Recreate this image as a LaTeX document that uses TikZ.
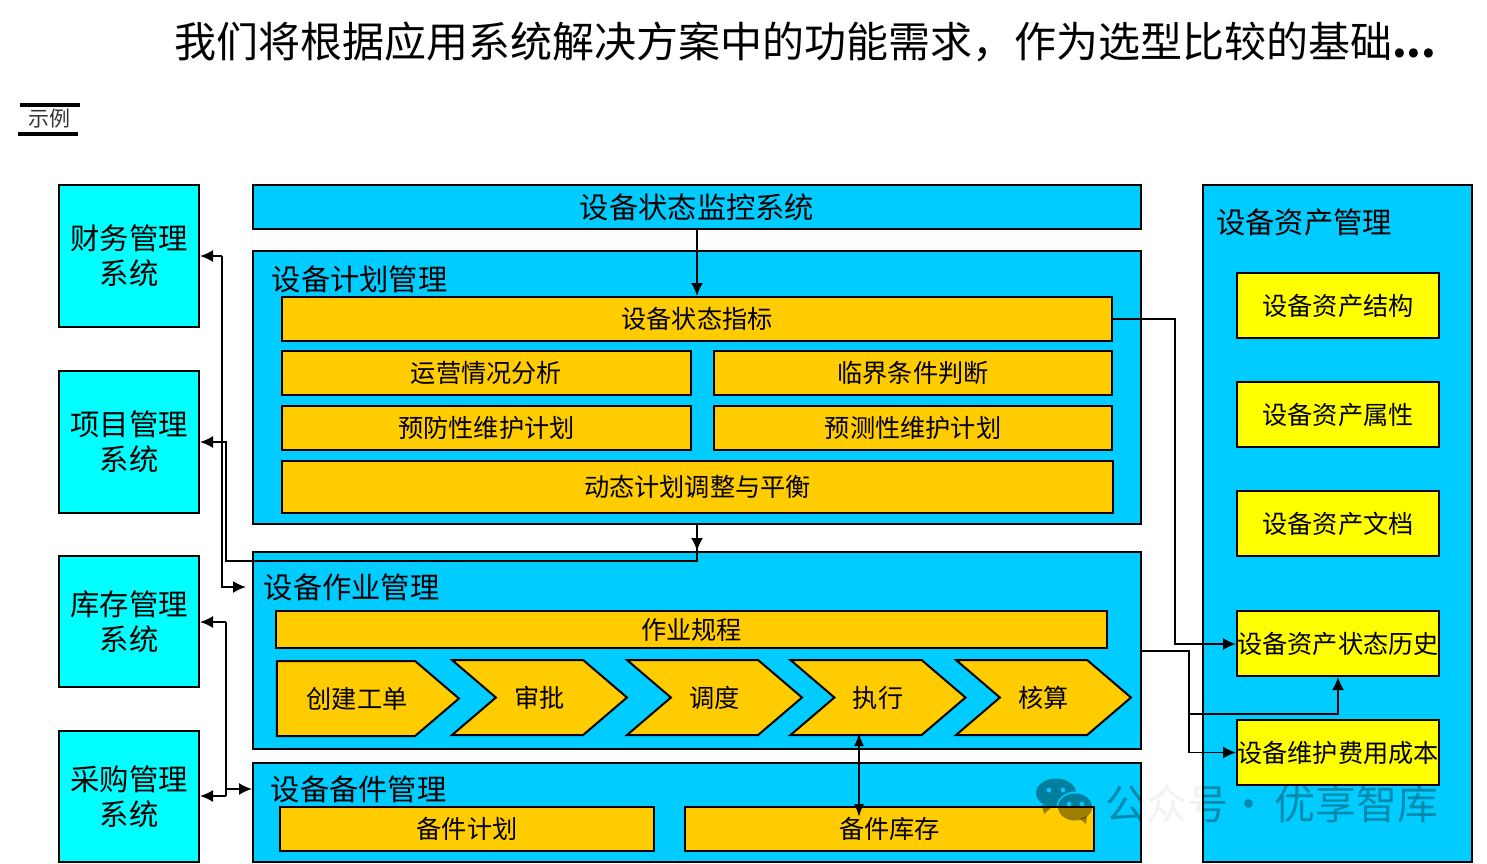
\documentclass[tikz,border=0pt]{standalone}
\usepackage{fontspec}
\setmainfont{Noto Sans CJK SC}
\usetikzlibrary{arrows.meta,shapes.symbols}
\definecolor{panelblue}{RGB}{0, 204, 255}
\definecolor{sysaqua}{RGB}{0, 255, 255}
\definecolor{taskamber}{RGB}{255, 204, 0}
\definecolor{assetyellow}{RGB}{255, 255, 0}
\newcommand{\pxfont}[1]{\fontsize{#1}{#1}\selectfont}
\newcommand{\marktext}{公众号·\hspace{5pt}优享智库}
\tikzset{
    box/.style={draw=black, line width=2pt, rectangle, inner sep=0pt, text=black},
    sysbox/.style={box, fill=sysaqua, align=center, font=\pxfont{29.4}},
    panel/.style={box, fill=panelblue},
    taskbox/.style={box, fill=taskamber, font=\pxfont{25.2}},
    assetbox/.style={box, fill=assetyellow, font=\pxfont{25.2}},
    panelhead/.style={anchor=west, inner sep=0pt, font=\pxfont{29.3}},
    stepchev/.style={draw=black, line width=2pt, fill=taskamber, shape=signal, signal to=east, signal from=west,
        signal pointer angle=81, inner sep=0pt, minimum width=175pt, minimum height=75pt, font=\pxfont{25.2}},
    wire/.style={draw=black, line width=1.8pt, -{Latex[length=13pt,width=12pt]}},
    wireplain/.style={draw=black, line width=1.8pt},
    markstyle/.style={anchor=west, inner sep=0pt, font=\pxfont{41}, text=black},
}
\begin{document}
\begin{tikzpicture}[x=1pt, y=-1pt]
    \useasboundingbox (0,0) rectangle (1487,863);
    % title
    \node[anchor=west, inner sep=0pt, font=\pxfont{42}] (title) at (174,42) {我们将根据应用系统解决方案中的功能需求，作为选型比较的基础\textbf{...}};
    \node[inner sep=0pt, font=\pxfont{21}, text=black!80] (sample) at (49,119) {示例};
    \draw[line width=4.5pt] (20,105) -- (80,105);
    \draw[line width=4.5pt] (18,134) -- (78,134);
    % left systems
    \node[sysbox, minimum width=140pt, minimum height=142pt] (finance) at (129,256) {财务管理\\[6pt]系统};
    \node[sysbox, minimum width=140pt, minimum height=142pt] (project) at (129,442) {项目管理\\[6pt]系统};
    \node[sysbox, minimum width=140pt, minimum height=131pt] (stock)   at (129,621.5) {库存管理\\[6pt]系统};
    \node[sysbox, minimum width=140pt, minimum height=131pt] (purchase) at (129,796.5) {采购管理\\[6pt]系统};
    % middle panels
    \node[panel, font=\pxfont{29.3}, minimum width=888pt, minimum height=44pt] (monitor) at (697,207) {设备状态监控系统};
    \node[panel, minimum width=888pt, minimum height=273pt] (plan) at (697,387.5) {};
    \node[panel, minimum width=888pt, minimum height=197pt] (work) at (697,650.5) {};
    \node[panel, minimum width=888pt, minimum height=99pt]  (spare) at (697,812.5) {};
    \node[panel, minimum width=269pt, minimum height=677pt] (asset) at (1337.5,523.5) {};
    \node[panelhead] (planhead)  at (271.5,279) {设备计划管理};
    \node[panelhead] (workhead)  at (263.5,587) {设备作业管理};
    \node[panelhead] (sparehead) at (270.5,789) {设备备件管理};
    \node[panelhead] (assethead) at (1216,222) {设备资产管理};
    % plan tasks
    \node[taskbox, minimum width=830pt, minimum height=44pt] (index) at (697,319) {设备状态指标};
    \node[taskbox, minimum width=409pt, minimum height=44pt] (analysis) at (486.5,373) {运营情况分析};
    \node[taskbox, minimum width=398pt, minimum height=44pt] (critical) at (913,373) {临界条件判断};
    \node[taskbox, minimum width=409pt, minimum height=44pt] (prevent) at (486.5,428) {预防性维护计划};
    \node[taskbox, minimum width=398pt, minimum height=44pt] (predict) at (913,428) {预测性维护计划};
    \node[taskbox, minimum width=831pt, minimum height=52pt] (balance) at (697.5,487) {动态计划调整与平衡};
    % work tasks
    \node[taskbox, minimum width=831pt, minimum height=37pt] (rules) at (691.5,629.5) {作业规程};
    \node[stepchev, signal from=nowhere, minimum width=182pt] (create) at (346,698.5) {\hspace*{22pt}创建工单};
    \node[stepchev] (approve) at (539.5,697.5) {审批};
    \node[stepchev] (dispatch) at (714.5,697.5) {调度};
    \node[stepchev] (execute) at (878,697.5) {执行};
    \node[stepchev] (account) at (1043.5,697.5) {核算};
    % spare tasks
    \node[taskbox, minimum width=374pt, minimum height=44pt] (spareplan) at (467,829) {备件计划};
    \node[taskbox, minimum width=409pt, minimum height=44pt] (sparestock) at (889.5,829) {备件库存};
    % asset items
    \node[assetbox, minimum width=202pt, minimum height=65pt] (structure) at (1338,305.5) {设备资产结构};
    \node[assetbox, minimum width=202pt, minimum height=65pt] (attribute) at (1338,414.5) {设备资产属性};
    \node[assetbox, minimum width=202pt, minimum height=65pt] (document) at (1338,523.5) {设备资产文档};
    \node[assetbox, minimum width=202pt, minimum height=65pt] (history) at (1338,643.5) {设备资产状态历史};
    \node[assetbox, minimum width=202pt, minimum height=65pt] (cost) at (1338,752.5) {设备维护费用成本};
    % connectors
    \draw[wire] (monitor.south) -- (index.north);
    \draw[wire] (plan.south) -- (work.north);
    \draw[wire] (plan.south) -- (697,561) -- (226,561) -- (226,442) -- (project.east);
    \draw[wire] (222,256) -- (finance.east);
    \draw[wire] (222,256) -- (222,587) -- (246,587);
    \draw[wire] (226,622) -- (stock.east |- 226,622);
    \draw[wireplain] (226,622) -- (226,796);
    \draw[wire] (226,796) -- (purchase.east |- 226,796);
    \draw[wire] (226,789) -- (spare.west |- 226,789);
    \draw[wire] (index.east) -- (1175,319) -- (1175,644) -- (history.west |- 1175,644);
    \draw[wireplain] (work.east |- 1141,651) -- (1189,651) -- (1189,714);
    \draw[wire] (1189,714) -- (1189,752.5) -- (cost.west);
    \draw[wire] (1189,714) -- (history.south |- 1189,714) -- (history.south);
    \draw[wire, {Latex[length=13pt,width=10pt]}-{Latex[length=13pt,width=10pt]}] (859,733) -- (859,817);
    % watermark
    \begin{scope}[opacity=.32]
        \clip (253,763) rectangle (1141,862) (1203,185) rectangle (1472,862);
        \node[markstyle] (markblue) at (1105,804) {\marktext};
    \end{scope}
    \begin{scope}[opacity=.05]
        \clip (1141,763) rectangle (1203,862);
        \node[markstyle] (markgap) at (1105,804) {\marktext};
    \end{scope}
    % wechat icon
    \begin{scope}[even odd rule]
        \clip (1030,770) rectangle (1100,830) (1075,807) ellipse (18.5 and 15.5);
        \fill[black, opacity=.38] (1056,793) ellipse (20 and 14.5) (1049,790) circle (2.5) (1063,790) circle (2.5);
        \fill[black, opacity=.38] (1042,805) -- (1044,814) -- (1052,807) -- cycle;
    \end{scope}
    \fill[black, opacity=.38, even odd rule] (1075,807) ellipse (17 and 13.5) (1069,804) circle (2.5) (1082,804) circle (2.5);
    \fill[black, opacity=.38] (1080,819) -- (1086,824) -- (1087,816) -- cycle;
\end{tikzpicture}
\end{document}
